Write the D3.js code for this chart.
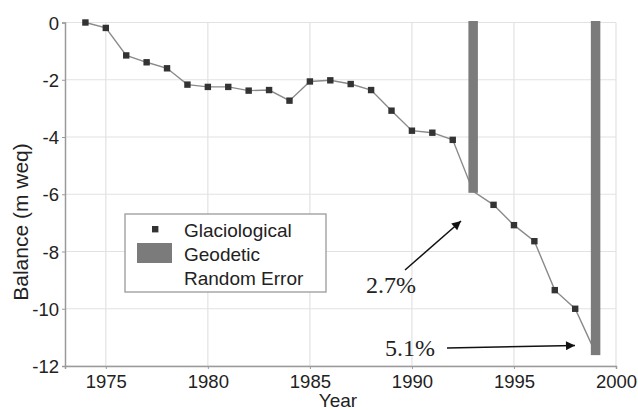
<!DOCTYPE html>
<html><head><meta charset="utf-8">
<script src="https://cdn.jsdelivr.net/npm/d3@7"></script>
<style>body{margin:0;background:#fff}svg{display:block}text{font-family:"Liberation Sans",Arial,sans-serif}</style>
</head><body><svg id="c" width="638" height="410"></svg>
<script>
const years = [1974,1975,1976,1977,1978,1979,1980,1981,1982,1983,1984,1985,1986,1987,1988,1989,1990,1991,1992,1993,1994,1995,1996,1997,1998,1999];
const glaciological = [0,-0.19,-1.15,-1.39,-1.6,-2.17,-2.25,-2.25,-2.38,-2.36,-2.73,-2.06,-2.02,-2.15,-2.36,-3.08,-3.78,-3.85,-4.1,-5.9,-6.37,-7.08,-7.64,-9.35,-10.0,-11.55];
const markerYears = years.slice(0, 19).concat(years.slice(20, 25));
const geodeticYears = [1993,1999];
const geodetic = [-5.95,-11.62];
const xTicks = [1975,1980,1985,1990,1995,2000];
const yTicks = [0,-2,-4,-6,-8,-10,-12];
const annotations = [{label:"2.7%", x:366, y:293}, {label:"5.1%", x:385, y:356}];

const svg = d3.select("#c");
const L=65, R=616, T=22.5, B=366;
const x = d3.scaleLinear().domain([1973,2000]).range([L,R]);
const y = d3.scaleLinear().domain([-12,0]).range([B,T]);

// defs
svg.append("defs").append("marker").attr("id","ah").attr("viewBox","0 0 10 10")
  .attr("refX",10).attr("refY",5).attr("markerWidth",13).attr("markerHeight",9)
  .attr("markerUnits","userSpaceOnUse").attr("orient","auto")
  .append("path").attr("d","M0,0L10,5L0,10Z").attr("fill","#111");

// grid
const g = svg.append("g");
g.selectAll(".gx").data(xTicks).join("line").attr("x1",d=>x(d)).attr("x2",d=>x(d))
  .attr("y1",T).attr("y2",B).attr("stroke","#e2e2e2").attr("stroke-width",1.2);
g.selectAll(".gy").data(yTicks).join("line").attr("y1",d=>y(d)).attr("y2",d=>y(d))
  .attr("x1",L).attr("x2",R).attr("stroke","#e2e2e2").attr("stroke-width",1.2);

// axes
const xAxis = d3.axisBottom(x).tickValues(xTicks).tickSize(3).tickPadding(6).tickFormat(d3.format("d"));
const yAxis = d3.axisLeft(y).tickValues(yTicks).tickSize(3).tickPadding(3).tickFormat(d=>d===0?"0":"-"+Math.abs(d));
const ax = svg.append("g").attr("transform",`translate(0,${B})`).call(xAxis);
const ay = svg.append("g").attr("transform",`translate(${L},0)`).call(yAxis);
[ax,ay].forEach(a=>{
  a.select(".domain").attr("stroke","#9a9a9a").attr("stroke-width",1.5);
  a.selectAll(".tick line").attr("stroke","#9a9a9a");
  a.selectAll(".tick text").attr("fill","#222").style("font-size","18.5px").style("font-family","'Liberation Sans',Arial,sans-serif");
});
ay.selectAll(".tick text").attr("dy","0.36em");

// axis titles
svg.append("text").attr("x",338).attr("y",407).attr("text-anchor","middle")
  .style("font-size","19px").attr("fill","#222").text("Year");
svg.append("text").attr("transform","translate(28,222) rotate(-90)").attr("text-anchor","middle")
  .style("font-size","21px").attr("fill","#222").text("Balance (m weq)");

// line
const line = d3.line().x((d,i)=>x(years[i])).y(d=>y(d));
svg.append("path").datum(glaciological).attr("d",line).attr("fill","none")
  .attr("stroke","#8a8a8a").attr("stroke-width",1.4);
svg.selectAll(".m").data(markerYears).join("rect")
  .attr("x",d=>x(d)-3.2).attr("y",d=>y(glaciological[years.indexOf(d)])-3.2)
  .attr("width",6.4).attr("height",6.4).attr("fill","#333");

// bars
const bw = 9.5;
svg.selectAll(".b").data(geodetic).join("rect")
  .attr("x",(d,i)=>x(geodeticYears[i])-bw/2).attr("y",y(0)-1.5)
  .attr("width",bw).attr("height",d=>y(d)-y(0)+1.5).attr("fill","#7b7b7b");

// legend
const lg = svg.append("g");
lg.append("rect").attr("x",125).attr("y",214).attr("width",201).attr("height",78)
  .attr("fill","#fff").attr("stroke","#9a9a9a").attr("stroke-width",1.3);
lg.append("rect").attr("x",152).attr("y",226).attr("width",6.4).attr("height",6.4).attr("fill","#333");
lg.append("rect").attr("x",137).attr("y",243).attr("width",35).attr("height",20).attr("fill","#7b7b7b");
[["Glaciological",236.5],["Geodetic",261],["Random Error",285]].forEach(([t,yy])=>{
  lg.append("text").attr("x",184).attr("y",yy).style("font-size","19px").attr("fill","#222").text(t);
});

// annotations
svg.selectAll(".an").data(annotations).join("text").attr("x",d=>d.x).attr("y",d=>d.y)
  .style("font-family","'Liberation Serif','Times New Roman',serif").style("font-size","24px")
  .attr("fill","#222").text(d=>d.label);
svg.append("line").attr("x1",405).attr("y1",270).attr("x2",461).attr("y2",221)
  .attr("stroke","#111").attr("stroke-width",1.5).attr("marker-end","url(#ah)");
svg.append("line").attr("x1",447).attr("y1",348).attr("x2",575).attr("y2",345.5)
  .attr("stroke","#111").attr("stroke-width",1.5).attr("marker-end","url(#ah)");
</script></body></html>
